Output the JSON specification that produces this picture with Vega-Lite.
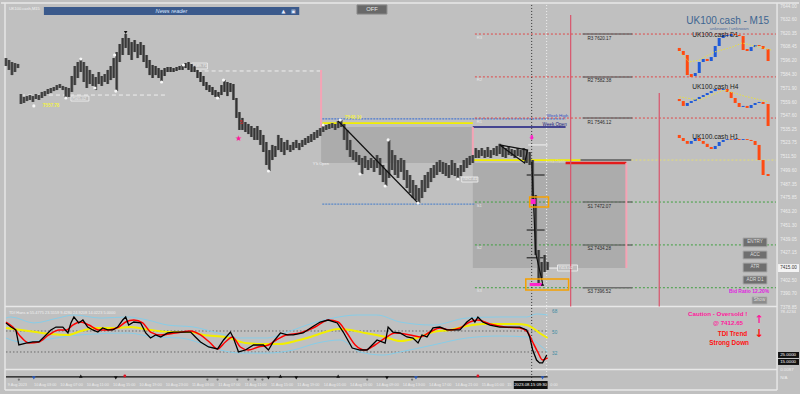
{
"$schema":"https://vega.github.io/schema/vega-lite/v6.json",
"width":800,"height":394,"padding":0,
"autosize":{"type":"fit","contains":"padding"},
"background":"#c0c0c0",
"config":{"view":{"stroke":null},"text":{"font":"Liberation Sans"}},
"datasets":{
"bars":[
{"n":0,"p":7599.0,"p2":7592.0},{"n":1,"p":7597.3,"p2":7588.5},{"n":2,"p":7595.5,"p2":7584.0},{"n":3,"p":7594.6,"p2":7586.7},{"n":4,"p":7593.8,"p2":7590.2},
{"n":5,"p":7567.3,"p2":7558.5},{"n":6,"p":7564.7,"p2":7559.4},{"n":7,"p":7565.5,"p2":7561.1},{"n":8,"p":7566.4,"p2":7562.0},{"n":9,"p":7565.5,"p2":7560.3},
{"n":10,"p":7567.3,"p2":7562.9},{"n":11,"p":7566.4,"p2":7562.0},{"n":12,"p":7569.1,"p2":7563.8},{"n":13,"p":7569.9,"p2":7565.5},{"n":14,"p":7571.7,"p2":7567.3},
{"n":15,"p":7572.6,"p2":7568.2},{"n":16,"p":7573.5,"p2":7569.9},{"n":17,"p":7575.2,"p2":7570.8},{"n":18,"p":7576.1,"p2":7572.6},{"n":19,"p":7574.4,"p2":7570.8},
{"n":20,"p":7573.5,"p2":7563.8},{"n":21,"p":7572.6,"p2":7564.7},{"n":22,"p":7583.2,"p2":7569.1},{"n":23,"p":7592.0,"p2":7575.2},{"n":24,"p":7595.5,"p2":7581.4},
{"n":25,"p":7598.2,"p2":7586.7},{"n":26,"p":7595.5,"p2":7577.9},{"n":27,"p":7592.0,"p2":7572.6},{"n":28,"p":7588.5,"p2":7576.1},{"n":29,"p":7584.9,"p2":7574.4},
{"n":30,"p":7582.3,"p2":7570.8},{"n":31,"p":7586.7,"p2":7576.1},{"n":32,"p":7583.2,"p2":7574.4},{"n":33,"p":7584.9,"p2":7577.9},{"n":34,"p":7588.5,"p2":7576.1},
{"n":35,"p":7592.0,"p2":7579.6},{"n":36,"p":7599.0,"p2":7581.4},{"n":37,"p":7604.3,"p2":7569.9},{"n":38,"p":7611.4,"p2":7595.5},{"n":39,"p":7616.7,"p2":7601.7},
{"n":40,"p":7620.2,"p2":7607.9},{"n":41,"p":7616.7,"p2":7601.7},{"n":42,"p":7613.1,"p2":7597.3},{"n":43,"p":7614.9,"p2":7604.3},{"n":44,"p":7611.4,"p2":7599.0},
{"n":45,"p":7613.1,"p2":7601.7},{"n":46,"p":7610.5,"p2":7595.5},{"n":47,"p":7601.7,"p2":7590.2},{"n":48,"p":7597.3,"p2":7584.0},{"n":49,"p":7592.9,"p2":7581.4},
{"n":50,"p":7592.0,"p2":7584.0},{"n":51,"p":7590.2,"p2":7581.4},{"n":52,"p":7588.5,"p2":7577.9},{"n":53,"p":7590.2,"p2":7583.2},{"n":54,"p":7591.1,"p2":7586.7},
{"n":55,"p":7591.1,"p2":7586.7},{"n":56,"p":7590.2,"p2":7586.7},{"n":57,"p":7591.1,"p2":7587.6},{"n":58,"p":7592.0,"p2":7588.5},{"n":59,"p":7592.9,"p2":7588.5},
{"n":60,"p":7594.6,"p2":7590.2},{"n":61,"p":7595.5,"p2":7588.5},{"n":62,"p":7593.8,"p2":7586.7},{"n":63,"p":7592.0,"p2":7586.7},{"n":64,"p":7588.5,"p2":7581.4},
{"n":65,"p":7586.7,"p2":7577.9},{"n":66,"p":7583.2,"p2":7574.4},{"n":67,"p":7577.9,"p2":7570.8},{"n":68,"p":7575.2,"p2":7569.1},{"n":69,"p":7573.5,"p2":7566.4},
{"n":70,"p":7570.8,"p2":7564.7},{"n":71,"p":7569.1,"p2":7563.8},{"n":72,"p":7575.2,"p2":7566.4},{"n":73,"p":7579.6,"p2":7569.1},{"n":74,"p":7577.9,"p2":7565.5},
{"n":75,"p":7577.0,"p2":7569.1},{"n":76,"p":7576.1,"p2":7562.0},{"n":77,"p":7563.8,"p2":7546.2},{"n":78,"p":7551.4,"p2":7535.6},{"n":79,"p":7546.2,"p2":7535.6},
{"n":80,"p":7542.6,"p2":7533.8},{"n":81,"p":7540.9,"p2":7532.0},{"n":82,"p":7539.1,"p2":7529.4},{"n":83,"p":7537.3,"p2":7526.8},{"n":84,"p":7539.1,"p2":7526.8},
{"n":85,"p":7535.6,"p2":7522.4},{"n":86,"p":7531.2,"p2":7516.2},{"n":87,"p":7525.0,"p2":7504.7},{"n":88,"p":7517.9,"p2":7499.4},{"n":89,"p":7522.4,"p2":7509.1},
{"n":90,"p":7521.5,"p2":7511.8},{"n":91,"p":7531.2,"p2":7517.9},{"n":92,"p":7528.5,"p2":7516.2},{"n":93,"p":7525.0,"p2":7513.5},{"n":94,"p":7526.8,"p2":7517.9},
{"n":95,"p":7522.4,"p2":7516.2},{"n":96,"p":7525.0,"p2":7517.9},{"n":97,"p":7526.8,"p2":7519.7},{"n":98,"p":7524.1,"p2":7517.9},{"n":99,"p":7526.8,"p2":7520.6},
{"n":100,"p":7528.5,"p2":7522.4},{"n":101,"p":7530.3,"p2":7524.1},{"n":102,"p":7532.0,"p2":7525.0},{"n":103,"p":7533.8,"p2":7526.8},{"n":104,"p":7535.6,"p2":7528.5},
{"n":105,"p":7537.3,"p2":7530.3},{"n":106,"p":7540.9,"p2":7533.8},{"n":107,"p":7540.0,"p2":7535.6},{"n":108,"p":7540.9,"p2":7536.5},{"n":109,"p":7541.7,"p2":7537.3},
{"n":110,"p":7540.9,"p2":7535.6},{"n":111,"p":7543.5,"p2":7537.3},{"n":112,"p":7544.4,"p2":7538.2},{"n":113,"p":7540.9,"p2":7526.8},{"n":114,"p":7535.6,"p2":7517.9},
{"n":115,"p":7526.8,"p2":7511.8},{"n":116,"p":7517.9,"p2":7509.1},{"n":117,"p":7516.2,"p2":7507.4},{"n":118,"p":7513.5,"p2":7504.7},{"n":119,"p":7510.9,"p2":7496.8},
{"n":120,"p":7512.7,"p2":7502.1},{"n":121,"p":7509.1,"p2":7500.3},{"n":122,"p":7510.9,"p2":7502.1},{"n":123,"p":7509.1,"p2":7498.6},{"n":124,"p":7513.5,"p2":7502.1},
{"n":125,"p":7510.9,"p2":7495.9},{"n":126,"p":7504.7,"p2":7489.7},{"n":127,"p":7500.3,"p2":7486.2},{"n":128,"p":7526.8,"p2":7493.3},{"n":129,"p":7517.9,"p2":7500.3},
{"n":130,"p":7513.5,"p2":7495.9},{"n":131,"p":7509.1,"p2":7493.3},{"n":132,"p":7510.9,"p2":7498.6},{"n":133,"p":7509.1,"p2":7491.5},{"n":134,"p":7500.3,"p2":7484.4},
{"n":135,"p":7495.9,"p2":7480.0},{"n":136,"p":7491.5,"p2":7475.6},{"n":137,"p":7487.1,"p2":7473.9},{"n":138,"p":7484.4,"p2":7471.2},{"n":139,"p":7491.5,"p2":7475.6},
{"n":140,"p":7495.9,"p2":7480.9},{"n":141,"p":7498.6,"p2":7484.4},{"n":142,"p":7502.1,"p2":7489.7},{"n":143,"p":7504.7,"p2":7493.3},{"n":144,"p":7507.4,"p2":7495.9},
{"n":145,"p":7509.1,"p2":7498.6},{"n":146,"p":7507.4,"p2":7496.8},{"n":147,"p":7506.5,"p2":7495.0},{"n":148,"p":7504.7,"p2":7493.3},{"n":149,"p":7509.1,"p2":7495.9},
{"n":150,"p":7506.5,"p2":7495.0},{"n":151,"p":7502.1,"p2":7492.4},{"n":152,"p":7504.7,"p2":7495.0},{"n":153,"p":7509.1,"p2":7498.6},{"n":154,"p":7510.9,"p2":7502.1},
{"n":155,"p":7512.7,"p2":7504.7},{"n":156,"p":7513.5,"p2":7506.5},{"n":157,"p":7519.7,"p2":7510.9},{"n":158,"p":7517.9,"p2":7510.9},{"n":159,"p":7519.7,"p2":7512.7},
{"n":160,"p":7517.9,"p2":7510.9},{"n":161,"p":7520.6,"p2":7511.8},{"n":162,"p":7517.9,"p2":7510.9},{"n":163,"p":7519.7,"p2":7513.5},{"n":164,"p":7521.5,"p2":7512.7},
{"n":165,"p":7523.4,"p2":7514.4},{"n":166,"p":7521.5,"p2":7511.8},{"n":167,"p":7519.7,"p2":7510.9},{"n":168,"p":7520.6,"p2":7513.5},{"n":169,"p":7518.8,"p2":7512.7},
{"n":170,"p":7517.9,"p2":7510.9},{"n":171,"p":7519.7,"p2":7512.7},{"n":172,"p":7517.9,"p2":7511.8},{"n":173,"p":7519.7,"p2":7509.1},{"n":174,"p":7517.9,"p2":7506.5},
{"n":175,"p":7516.2,"p2":7504.7},{"n":176,"p":7509.1,"p2":7473.9},{"n":177,"p":7478.3,"p2":7425.4},{"n":178,"p":7429.8,"p2":7400.7},{"n":179,"p":7419.2,"p2":7405.1},
{"n":180,"p":7425.4,"p2":7410.4},{"n":181,"p":7419.2,"p2":7412.2}
],
"dots":[
{"n":9.3,"p":7556.8},{"n":20,"p":7563.8},{"n":25,"p":7598.2},{"n":29.7,"p":7572.6},{"n":36.3,"p":7601.7},{"n":36.7,"p":7569.9},{"n":52,"p":7577.9},{"n":59.3,"p":7592.9},{"n":70.7,"p":7563.8},{"n":72.7,"p":7579.6},{"n":87.7,"p":7499.4},{"n":106,"p":7540.0},{"n":111.7,"p":7544.4},{"n":118.3,"p":7496.8},{"n":126.7,"p":7486.2},{"n":127.7,"p":7526.8},{"n":137.7,"p":7471.2},{"n":151,"p":7492.4}
],
"hl":[
{"n":5,"n2":53.3,"p":7566.4,"k":"wdash"},{"n":61.7,"n2":105,"p":7587.6,"k":"wdash"},
{"n":105.7,"n2":187,"p":7545.3,"k":"wkhigh"},
{"n":105.7,"n2":156,"p":7541.7,"k":"yel"},{"n":156,"n2":192,"p":7509.1,"k":"yel"},
{"n":156,"n2":187,"p":7538.2,"k":"navy"},
{"n":105.7,"n2":156.7,"p":7470.3,"k":"blue"},
{"n":187,"n2":207.3,"p":7506.5,"k":"red"},
{"n":192,"n2":209,"p":7509.1,"k":"dark"},
{"n":209,"n2":257.3,"p":7509.1,"k":"fyel"},
{"n":174,"n2":180,"p":7495.9,"k":"blk"},{"n":174,"n2":180,"p":7447.4,"k":"blk"},{"n":174,"n2":180,"p":7422.9,"k":"blk"},
{"n":174.5,"n2":181,"p":7522.4,"k":"wht"},{"n":180,"n2":184.3,"p":7413.9,"k":"wht"},
{"n":50.7,"n2":60,"p":7637.8,"k":"ul"},
{"n":-0.33,"n2":257.67,"p":7380.0,"k":"sep"},{"n":-1.67,"n2":265,"p":7647.5,"k":"sep"}
],
"pv":[
{"s":"R3","k":"R","p":7620.17,"t":"R3 7620.17","n":156.7,"n2":257.3,"a":192.7,"a2":209.3,"ln":194.3,"sn":157.3},
{"s":"R2","k":"R","p":7582.38,"t":"R2 7582.38","n":156.7,"n2":257.3,"a":192.7,"a2":209.3,"ln":194.3,"sn":157.3},
{"s":"R1","k":"R","p":7546.12,"t":"R1 7546.12","n":156.7,"n2":257.3,"a":192.7,"a2":209.3,"ln":194.3,"sn":157.3},
{"s":"S1","k":"S","p":7472.07,"t":"S1 7472.07","n":156.7,"n2":257.3,"a":192.7,"a2":209.3,"ln":194.3,"sn":157.3},
{"s":"S2","k":"S","p":7434.28,"t":"S2 7434.28","n":156.7,"n2":257.3,"a":192.7,"a2":209.3,"ln":194.3,"sn":157.3},
{"s":"S3","k":"S","p":7396.52,"t":"S3 7396.52","n":156.7,"n2":257.3,"a":192.7,"a2":209.3,"ln":194.3,"sn":157.3}
],
"vl":[
{"n":105.3,"p":7588.5,"p2":7538.2,"k":"pink"},{"n":156,"p":7538.2,"p2":7506.5,"k":"pink"},{"n":207.3,"p":7506.5,"p2":7413.9,"k":"pink"},
{"n":188.7,"p":7637.0,"p2":7380.0,"k":"redv"},{"n":218.3,"p":7568.2,"p2":7380.0,"k":"redv"},
{"n":175.67,"p":7645.8,"p2":7306.4,"k":"cross"},
{"n":180.67,"p":7645.8,"p2":7315.2,"k":"wdot"},
{"n":-0.33,"p":7647.5,"p2":7306.4,"k":"frame"},{"n":257.67,"p":7647.5,"p2":7306.4,"k":"frame"}
],
"bx":[
{"n":105.3,"n2":156,"p":7538.2,"p2":7506.5,"k":"shade"},{"n":156,"n2":207.3,"p":7506.5,"p2":7413.9,"k":"shade"},
{"n":21.7,"n2":27.7,"p":7565.5,"p2":7561.1,"k":"lbl"},{"n":62,"n2":67.3,"p":7594.6,"p2":7589.3,"k":"lbl"},{"n":152.3,"n2":157.7,"p":7494.2,"p2":7489.7,"k":"lbl"},{"n":184.3,"n2":191,"p":7416.6,"p2":7411.3,"k":"lbl"},
{"n":175,"n2":181.3,"p":7476.5,"p2":7467.7,"k":"orange"},{"n":173.7,"n2":188,"p":7404.2,"p2":7394.5,"k":"orange"},
{"n":175.3,"n2":177,"p":7474.8,"p2":7470.3,"k":"mag"},{"n":175,"n2":179.3,"p":7400.7,"p2":7398.1,"k":"mag"},
{"n":12.67,"n2":98,"p":7644.0,"p2":7636.9,"k":"news"},
{"n":246.3,"n2":254.3,"p":7440.4,"p2":7432.6,"k":"btn"},{"n":246.3,"n2":254.3,"p":7428.9,"p2":7421.9,"k":"btn"},{"n":246.3,"n2":254.3,"p":7418.3,"p2":7410.4,"k":"btn"},{"n":246.3,"n2":254.3,"p":7406.9,"p2":7399.8,"k":"btn"},
{"n":249.3,"n2":254.3,"p":7388.4,"p2":7382.2,"k":"show"},
{"n":117.3,"n2":127.3,"p":7645.8,"p2":7637.8,"k":"off"},
{"n":258,"n2":265,"p":7417.4,"p2":7410.4,"k":"cur"}
],
"tl":[
{"g":"a","o":1,"n":111,"p":7543.5},{"g":"a","o":2,"n":137.7,"p":7471.2},
{"g":"b","o":1,"n":165,"p":7522.4},{"g":"b","o":2,"n":174.3,"p":7517.9},{"g":"b","o":3,"n":173.3,"p":7506.5},{"g":"b","o":4,"n":165,"p":7522.4},
{"g":"c","o":1,"n":175.7,"p":7507.4},{"g":"c","o":2,"n":177,"p":7427.3},{"g":"c","o":3,"n":179.3,"p":7400.7}
],
"mc":[
{"g":"D1","n":225,"p":7607.9,"p2":7605.2},{"g":"D1","n":226.33,"p":7605.2,"p2":7601.7},{"g":"D1","n":227.67,"p":7601.7,"p2":7584.0},{"g":"D1","n":229,"p":7584.9,"p2":7582.3},{"g":"D1","n":230.33,"p":7583.2,"p2":7585.8},{"g":"D1","n":231.67,"p":7585.8,"p2":7595.5},{"g":"D1","n":233,"p":7595.5,"p2":7598.2},{"g":"D1","n":234.33,"p":7598.2,"p2":7596.4},{"g":"D1","n":235.67,"p":7596.4,"p2":7599.9},{"g":"D1","n":237,"p":7599.9,"p2":7609.6},{"g":"D1","n":238.33,"p":7609.6,"p2":7616.7},{"g":"D1","n":239.67,"p":7616.7,"p2":7619.3},{"g":"D1","n":241,"p":7618.4,"p2":7619.3},{"g":"D1","n":242.33,"p":7618.4,"p2":7620.2},{"g":"D1","n":243.67,"p":7620.2,"p2":7619.3},{"g":"D1","n":245,"p":7619.3,"p2":7618.4},{"g":"D1","n":246.33,"p":7618.4,"p2":7606.1},{"g":"D1","n":247.67,"p":7607.0,"p2":7605.2},{"g":"D1","n":249,"p":7605.2,"p2":7608.7},{"g":"D1","n":250.33,"p":7608.7,"p2":7610.5},{"g":"D1","n":251.67,"p":7610.5,"p2":7609.6},{"g":"D1","n":253,"p":7609.6,"p2":7607.0},{"g":"D1","n":254.67,"p":7607.0,"p2":7596.4},
{"g":"H4","n":225,"p":7562.9,"p2":7561.1},{"g":"H4","n":226.33,"p":7561.1,"p2":7556.8},{"g":"H4","n":227.67,"p":7556.8,"p2":7559.4},{"g":"H4","n":229,"p":7559.4,"p2":7561.1},{"g":"H4","n":230.33,"p":7561.1,"p2":7562.9},{"g":"H4","n":231.67,"p":7562.9,"p2":7564.7},{"g":"H4","n":233,"p":7564.7,"p2":7566.4},{"g":"H4","n":234.33,"p":7566.4,"p2":7568.2},{"g":"H4","n":235.67,"p":7568.2,"p2":7569.9},{"g":"H4","n":237,"p":7569.9,"p2":7571.7},{"g":"H4","n":238.33,"p":7571.7,"p2":7570.8},{"g":"H4","n":239.67,"p":7570.8,"p2":7571.7},{"g":"H4","n":241,"p":7571.7,"p2":7569.1},{"g":"H4","n":242.33,"p":7569.1,"p2":7563.8},{"g":"H4","n":243.67,"p":7563.8,"p2":7559.4},{"g":"H4","n":245,"p":7559.4,"p2":7555.9},{"g":"H4","n":246.33,"p":7555.9,"p2":7556.8},{"g":"H4","n":247.67,"p":7556.8,"p2":7555.0},{"g":"H4","n":249,"p":7555.0,"p2":7557.6},{"g":"H4","n":250.33,"p":7557.6,"p2":7559.4},{"g":"H4","n":251.67,"p":7559.4,"p2":7560.3},{"g":"H4","n":253,"p":7560.3,"p2":7558.5},{"g":"H4","n":254.67,"p":7558.5,"p2":7539.1},
{"g":"H1","n":225,"p":7531.2,"p2":7528.5},{"g":"H1","n":226.33,"p":7528.5,"p2":7525.9},{"g":"H1","n":227.67,"p":7525.9,"p2":7523.4},{"g":"H1","n":229,"p":7523.4,"p2":7525.9},{"g":"H1","n":230.33,"p":7525.9,"p2":7528.5},{"g":"H1","n":231.67,"p":7528.5,"p2":7525.9},{"g":"H1","n":233,"p":7525.9,"p2":7523.4},{"g":"H1","n":234.33,"p":7523.4,"p2":7520.6},{"g":"H1","n":235.67,"p":7520.6,"p2":7518.8},{"g":"H1","n":237,"p":7518.8,"p2":7521.5},{"g":"H1","n":238.33,"p":7521.5,"p2":7525.0},{"g":"H1","n":239.67,"p":7525.0,"p2":7526.8},{"g":"H1","n":241,"p":7526.8,"p2":7527.6},{"g":"H1","n":242.33,"p":7527.6,"p2":7526.8},{"g":"H1","n":243.67,"p":7526.8,"p2":7527.6},{"g":"H1","n":245,"p":7527.6,"p2":7526.8},{"g":"H1","n":246.33,"p":7526.8,"p2":7527.6},{"g":"H1","n":247.67,"p":7527.6,"p2":7526.8},{"g":"H1","n":249,"p":7526.8,"p2":7525.9},{"g":"H1","n":250.33,"p":7525.9,"p2":7522.4},{"g":"H1","n":251.67,"p":7522.4,"p2":7509.1},{"g":"H1","n":253,"p":7509.1,"p2":7495.9},{"g":"H1","n":254.67,"p":7496.8,"p2":7495.0}
],
"mm":[
{"g":"D1","n":225,"p":7604.3},{"g":"D1","n":228.3,"p":7595.5},{"g":"D1","n":231.7,"p":7597.3},{"g":"D1","n":236.7,"p":7604.3},{"g":"D1","n":242.7,"p":7608.7},{"g":"D1","n":246,"p":7612.3},{"g":"D1","n":255.7,"p":7606.1},
{"g":"H4","n":225,"p":7564.7},{"g":"H4","n":231.7,"p":7562.0},{"g":"H4","n":240,"p":7570.8},{"g":"H4","n":246.7,"p":7565.5},{"g":"H4","n":255,"p":7560.3}
],
"sym":[
{"n":175.7,"p":7528.9,"k":"arrow"},{"n":40,"p":7621.5,"k":"tdn"},{"n":179.3,"p":7399.5,"k":"tup"}
],
"tx":[
{"n":258.7,"p":7644.00,"t":"7644.00","k":"ax"},{"n":258.7,"p":7632.60,"t":"7632.60","k":"ax"},{"n":258.7,"p":7620.35,"t":"7620.35","k":"ax"},{"n":258.7,"p":7608.45,"t":"7608.45","k":"ax"},{"n":258.7,"p":7596.20,"t":"7596.20","k":"ax"},{"n":258.7,"p":7584.30,"t":"7584.30","k":"ax"},{"n":258.7,"p":7571.90,"t":"7571.90","k":"ax"},{"n":258.7,"p":7559.60,"t":"7559.60","k":"ax"},{"n":258.7,"p":7547.60,"t":"7547.60","k":"ax"},{"n":258.7,"p":7535.25,"t":"7535.25","k":"ax"},{"n":258.7,"p":7523.75,"t":"7523.75","k":"ax"},{"n":258.7,"p":7511.50,"t":"7511.50","k":"ax"},{"n":258.7,"p":7499.60,"t":"7499.60","k":"ax"},{"n":258.7,"p":7487.35,"t":"7487.35","k":"ax"},{"n":258.7,"p":7475.85,"t":"7475.85","k":"ax"},{"n":258.7,"p":7463.20,"t":"7463.20","k":"ax"},{"n":258.7,"p":7451.30,"t":"7451.30","k":"ax"},{"n":258.7,"p":7439.05,"t":"7439.05","k":"ax"},{"n":258.7,"p":7427.15,"t":"7427.15","k":"ax"},{"n":258.7,"p":7402.50,"t":"7402.50","k":"ax"},{"n":258.7,"p":7390.70,"t":"7390.70","k":"ax"},{"n":258.7,"p":7378.85,"t":"7378.85","k":"ax"},
{"n":258.7,"p":7414.0,"t":"7415.00","k":"cur"},
{"n":255,"p":7631.7,"t":"UK100.cash - M15","k":"title"},
{"n":241.7,"p":7624.8,"t":"unknown / unknown","k":"sub"},
{"n":229.3,"p":7619.3,"t":"UK100.cash D1","k":"tf"},{"n":229.3,"p":7573.5,"t":"UK100.cash H4","k":"tf"},{"n":229.3,"p":7529.4,"t":"UK100.cash H1","k":"tf"},
{"n":250.3,"p":7436.5,"t":"ENTRY","k":"btn"},{"n":250.3,"p":7425.4,"t":"ACC","k":"btn"},{"n":250.3,"p":7414.4,"t":"ATR","k":"btn"},{"n":250.3,"p":7403.4,"t":"ADR D1","k":"btn"},{"n":251.8,"p":7385.3,"t":"Show","k":"btn"},
{"n":248.3,"p":7393.6,"t":"Bid Ratio 12.20%","k":"bid"},
{"n":55.3,"p":7640.5,"t":"News reader","k":"news"},
{"n":92.7,"p":7640.5,"t":"▲","k":"icon"},{"n":96,"p":7640.5,"t":"▣","k":"icon"},
{"n":122.3,"p":7641.8,"t":"OFF","k":"off"},
{"n":1,"p":7642.2,"t":"UK100.cash,M15","k":"sm"},{"n":22,"p":7563.3,"t":"7565.02","k":"sm"},{"n":62.3,"p":7592.0,"t":"7589.71","k":"sm"},{"n":102.5,"p":7505.8,"t":"Y'k Open","k":"sm"},{"n":152.6,"p":7492.0,"t":"7492.41","k":"sm"},{"n":184.6,"p":7414.0,"t":"7413.02","k":"sm"},
{"n":12.3,"p":7556.7,"t":"7557.78","k":"yl"},{"n":113.3,"p":7546.0,"t":"7548.19","k":"yl"},
{"n":180.7,"p":7548.0,"t":"Week High","k":"wh"},
{"n":179.3,"p":7540.4,"t":"Week Open","k":"wo"},
{"n":180.7,"p":7508.2,"t":"Day Open","k":"do"},
{"n":77.7,"p":7527.6,"t":"★","k":"star"},
{"n":78.7,"p":7542.6,"t":"5","k":"r5"}
],
"tk":[
{"n":0,"v":56.9},{"n":1.7,"v":53.4},{"n":3.3,"v":50.9},{"n":4.3,"v":38.0},{"n":6.7,"v":39.7},{"n":9,"v":40.6},{"n":11,"v":40.6},{"n":12.7,"v":44.9},{"n":15,"v":50.9},{"n":16.7,"v":53.4},{"n":19,"v":53.4},{"n":20.7,"v":48.3},{"n":21.7,"v":56.9},{"n":22.7,"v":62.0},{"n":24.3,"v":56.9},{"n":25.7,"v":59.4},{"n":27.3,"v":53.4},{"n":29,"v":50.9},{"n":30.7,"v":49.1},{"n":32.3,"v":52.6},{"n":34,"v":50.9},{"n":35.7,"v":50.9},{"n":37.3,"v":53.4},{"n":39,"v":59.4},{"n":40,"v":62.0},{"n":41,"v":55.1},{"n":42.7,"v":57.7},{"n":45,"v":56.9},{"n":46.7,"v":48.3},{"n":48.3,"v":44.0},{"n":50,"v":46.6},{"n":51.7,"v":44.9},{"n":54,"v":48.3},{"n":56,"v":49.1},{"n":59,"v":49.1},{"n":61.7,"v":49.1},{"n":63.3,"v":44.9},{"n":65,"v":40.6},{"n":67.7,"v":36.3},{"n":70.7,"v":34.6},{"n":72.7,"v":42.3},{"n":75,"v":49.1},{"n":76,"v":44.0},{"n":77.7,"v":32.0},{"n":80,"v":33.7},{"n":82.7,"v":38.0},{"n":86,"v":38.0},{"n":87.7,"v":33.7},{"n":89.3,"v":40.6},{"n":91.7,"v":48.3},{"n":94,"v":46.6},{"n":96,"v":46.6},{"n":99.3,"v":48.3},{"n":102.3,"v":53.4},{"n":105,"v":57.7},{"n":107.7,"v":59.4},{"n":110.7,"v":56.9},{"n":112.7,"v":49.1},{"n":115.7,"v":35.4},{"n":118.3,"v":33.7},{"n":120.7,"v":33.7},{"n":124,"v":42.3},{"n":126.7,"v":39.7},{"n":127.7,"v":53.4},{"n":129.3,"v":49.1},{"n":131.7,"v":48.3},{"n":134,"v":44.9},{"n":136,"v":44.0},{"n":137.7,"v":39.7},{"n":139,"v":46.6},{"n":140.7,"v":44.9},{"n":142.7,"v":52.6},{"n":145,"v":53.4},{"n":147.3,"v":50.9},{"n":149.3,"v":50.9},{"n":151.7,"v":50.9},{"n":154,"v":57.7},{"n":155.7,"v":61.1},{"n":156.7,"v":57.7},{"n":157.7,"v":62.0},{"n":159.3,"v":57.7},{"n":161.7,"v":55.1},{"n":165,"v":53.4},{"n":168.3,"v":53.4},{"n":171.7,"v":53.4},{"n":174,"v":50.9},{"n":175,"v":44.9},{"n":176,"v":33.7},{"n":177.3,"v":25.1},{"n":178.3,"v":22.6},{"n":179.3,"v":22.6},{"n":180.7,"v":29.4}
],
"tr":[
{"n":0,"v":57.7},{"n":2.3,"v":53.4},{"n":5,"v":44.9},{"n":7.7,"v":39.7},{"n":11,"v":40.6},{"n":14.3,"v":46.6},{"n":17.7,"v":50.9},{"n":20.3,"v":50.9},{"n":22.3,"v":55.1},{"n":25,"v":57.7},{"n":27.7,"v":55.1},{"n":31,"v":50.9},{"n":34.3,"v":50.9},{"n":37.7,"v":53.4},{"n":40,"v":57.7},{"n":42.7,"v":59.4},{"n":45.7,"v":56.9},{"n":48.3,"v":49.1},{"n":51.7,"v":46.6},{"n":56.7,"v":48.3},{"n":61.7,"v":50.0},{"n":65,"v":46.6},{"n":68.3,"v":39.7},{"n":70.7,"v":34.6},{"n":73.3,"v":40.6},{"n":75.7,"v":44.9},{"n":78.3,"v":36.3},{"n":81,"v":33.7},{"n":84.3,"v":36.3},{"n":87.7,"v":38.0},{"n":90.3,"v":42.3},{"n":93.7,"v":46.6},{"n":98.3,"v":48.3},{"n":103.3,"v":53.4},{"n":107.7,"v":59.4},{"n":111,"v":57.7},{"n":113.7,"v":49.1},{"n":116.7,"v":38.0},{"n":120,"v":33.7},{"n":123.3,"v":38.0},{"n":126.7,"v":44.0},{"n":130,"v":48.3},{"n":135,"v":46.6},{"n":138.3,"v":44.9},{"n":141.7,"v":49.1},{"n":145,"v":52.6},{"n":148.3,"v":50.9},{"n":151.7,"v":52.6},{"n":155,"v":57.7},{"n":157.7,"v":59.4},{"n":161.7,"v":56.0},{"n":166.7,"v":53.4},{"n":171.7,"v":52.6},{"n":174.3,"v":49.1},{"n":176,"v":40.6},{"n":177.7,"v":32.0},{"n":179.3,"v":25.1},{"n":181,"v":26.9}
],
"ty":[
{"n":0,"v":52.6},{"n":5,"v":50.9},{"n":10,"v":49.1},{"n":15,"v":47.4},{"n":20.7,"v":46.6},{"n":25,"v":50.0},{"n":30,"v":52.6},{"n":36.7,"v":52.6},{"n":41.7,"v":53.4},{"n":48.3,"v":50.9},{"n":55,"v":49.1},{"n":61.7,"v":49.1},{"n":66,"v":46.6},{"n":73.3,"v":44.9},{"n":80,"v":39.7},{"n":85,"v":38.9},{"n":91.7,"v":38.9},{"n":96.7,"v":41.4},{"n":101.7,"v":44.9},{"n":106.7,"v":49.1},{"n":111,"v":51.7},{"n":115,"v":50.9},{"n":120,"v":48.3},{"n":126.7,"v":44.9},{"n":131.7,"v":41.4},{"n":137.3,"v":44.0},{"n":142.7,"v":49.1},{"n":148.3,"v":50.9},{"n":154,"v":54.3},{"n":159.3,"v":56.0},{"n":165,"v":56.0},{"n":170.7,"v":56.0},{"n":174,"v":55.1},{"n":176,"v":52.6},{"n":178.3,"v":48.3},{"n":181,"v":44.0}
],
"tu":[
{"n":0,"v":61.1},{"n":1.7,"v":62.0},{"n":9.3,"v":56.9},{"n":17.3,"v":61.1},{"n":22.7,"v":63.7},{"n":31.7,"v":61.1},{"n":40.7,"v":62.0},{"n":47.3,"v":59.4},{"n":54,"v":55.1},{"n":62.7,"v":53.4},{"n":70.7,"v":48.3},{"n":78.3,"v":44.0},{"n":87.3,"v":44.0},{"n":94,"v":49.1},{"n":102.7,"v":56.9},{"n":109.3,"v":61.1},{"n":117.3,"v":63.7},{"n":124,"v":63.7},{"n":131.7,"v":57.7},{"n":142.7,"v":55.1},{"n":154,"v":61.1},{"n":165,"v":62.0},{"n":174,"v":62.0},{"n":177.3,"v":64.6},{"n":181,"v":63.7}
],
"tw":[
{"n":0,"v":44.0},{"n":5,"v":40.6},{"n":12.7,"v":42.3},{"n":20.7,"v":45.7},{"n":29.3,"v":47.4},{"n":40.7,"v":48.3},{"n":49.3,"v":44.9},{"n":58.3,"v":44.0},{"n":65,"v":39.7},{"n":71.7,"v":33.7},{"n":78.3,"v":31.1},{"n":87.3,"v":31.1},{"n":96,"v":33.7},{"n":104,"v":39.7},{"n":111.7,"v":42.3},{"n":118.3,"v":32.0},{"n":126,"v":29.4},{"n":131.7,"v":32.0},{"n":142.7,"v":38.0},{"n":154,"v":44.0},{"n":165,"v":45.7},{"n":174,"v":44.9},{"n":178.3,"v":38.0},{"n":181,"v":32.0}
],
"tlev":[
{"n":0,"n2":181,"v":50,"k":"dot"},{"n":0,"n2":181,"v":32,"k":"dot"},
{"n":-0.33,"n2":257.67,"v":17.0,"k":"sep"},{"n":-0.33,"n2":257.67,"v":-0.6,"k":"sep"},
{"n":0,"n2":181,"v":10.6,"k":"strip"}
],
"mk":[
{"n":9.3,"v":9.9,"k":"bd"},{"n":137,"v":9.9,"k":"bd"},{"n":179.3,"v":9.9,"k":"bd"},
{"n":36.7,"v":9.9,"k":"kd"},{"n":87.7,"v":9.9,"k":"kd"},{"n":97,"v":9.9,"k":"kd"},{"n":127.3,"v":9.9,"k":"kd"},
{"n":25,"v":11.4,"k":"ku"},{"n":91.7,"v":11.4,"k":"ku"},{"n":111,"v":11.4,"k":"ku"},
{"n":4.3,"v":8.4,"k":"gd"},{"n":67.3,"v":8.4,"k":"gd"},{"n":70.7,"v":8.4,"k":"gd"},{"n":77.3,"v":8.4,"k":"gd"},{"n":81,"v":8.4,"k":"gd"},{"n":83.3,"v":8.4,"k":"gd"},{"n":85.7,"v":8.4,"k":"gd"},{"n":120.7,"v":8.4,"k":"gd"},{"n":135.7,"v":8.4,"k":"gd"},
{"n":39.7,"v":11.4,"k":"rd"},{"n":157.7,"v":11.4,"k":"rd"}
],
"trc":[
{"n":258,"n2":265,"v":32.0,"v2":26.9},{"n":258,"n2":265,"v":26.0,"v2":20.9},{"n":169.7,"n2":181,"v":7.15,"v2":0.29}
],
"tt":[
{"n":1,"v":65.8,"t":"TDI Hans = 55.4775 23.5559 9.4280 24.9208 14.0223 5.0000","k":"hdr"},
{"n":182.5,"v":66.3,"t":"68","k":"lvl"},{"n":182.5,"v":48.3,"t":"50","k":"lvl"},{"n":182.5,"v":30.3,"t":"32","k":"lvl"},
{"n":258.7,"v":66.3,"t":"78.4234","k":"rax"},{"n":258.7,"v":16.6,"t":"0.0087","k":"rax"},{"n":258.7,"v":9.7,"t":"N/A","k":"rax"},
{"n":258.7,"v":29.4,"t":"25.0000","k":"rbox"},{"n":258.7,"v":23.4,"t":"15.0000","k":"rbox"},
{"n":247.7,"v":64.6,"t":"Caution - Oversold !","k":"mag"},{"n":246.3,"v":56.9,"t":"@ 7412.65","k":"mag"},
{"n":247.7,"v":47.4,"t":"TDI Trend","k":"red"},{"n":248.3,"v":39.7,"t":"Strong Down","k":"red"},
{"n":251.7,"v":59.4,"t":"↑","k":"aru"},{"n":251.7,"v":47.4,"t":"↓","k":"ard"},
{"n":0.57,"v":3.7,"t":"9 Aug 2023","k":"time"},{"n":9.37,"v":3.7,"t":"10 Aug 03:00","k":"time"},{"n":18.17,"v":3.7,"t":"10 Aug 07:00","k":"time"},{"n":26.97,"v":3.7,"t":"10 Aug 11:00","k":"time"},{"n":35.77,"v":3.7,"t":"10 Aug 15:00","k":"time"},{"n":44.57,"v":3.7,"t":"10 Aug 19:00","k":"time"},{"n":53.37,"v":3.7,"t":"10 Aug 23:00","k":"time"},{"n":62.17,"v":3.7,"t":"11 Aug 03:00","k":"time"},{"n":70.97,"v":3.7,"t":"11 Aug 07:00","k":"time"},{"n":79.77,"v":3.7,"t":"11 Aug 11:00","k":"time"},{"n":88.57,"v":3.7,"t":"11 Aug 15:00","k":"time"},{"n":97.37,"v":3.7,"t":"11 Aug 19:00","k":"time"},{"n":106.17,"v":3.7,"t":"14 Aug 01:00","k":"time"},{"n":114.97,"v":3.7,"t":"14 Aug 05:00","k":"time"},{"n":123.77,"v":3.7,"t":"14 Aug 09:00","k":"time"},{"n":132.57,"v":3.7,"t":"14 Aug 13:00","k":"time"},{"n":141.37,"v":3.7,"t":"14 Aug 17:00","k":"time"},{"n":150.17,"v":3.7,"t":"14 Aug 21:00","k":"time"},{"n":158.97,"v":3.7,"t":"15 Aug 01:00","k":"time"},{"n":167.5,"v":3.7,"t":"15","k":"time"},{"n":181.9,"v":3.7,"t":"0:00","k":"time"},
{"n":175.3,"v":3.7,"t":"2023.08.15 09:30","k":"tbox"}
]
},
"layer":[
{
"encoding":{
"x":{"field":"n","type":"quantitative","scale":{"domain":[-1.6667,265],"nice":false,"zero":false},"axis":null},
"y":{"field":"p","type":"quantitative","scale":{"domain":[7302.86,7650.17],"nice":false,"zero":false},"axis":null}
},
"layer":[
{"data":{"name":"bx"},"transform":[{"filter":"datum.k==='shade'"}],"mark":{"type":"rect","fill":"#acacac"},"encoding":{"x2":{"field":"n2"},"y2":{"field":"p2"}}},
{"data":{"name":"bx"},"transform":[{"filter":"datum.k==='lbl'"}],"mark":{"type":"rect","fill":"#bcbcbc","stroke":"#f2f2f2","strokeWidth":0.8},"encoding":{"x2":{"field":"n2"},"y2":{"field":"p2"}}},
{"data":{"name":"hl"},"transform":[{"filter":"datum.k==='wdash'"}],"mark":{"type":"rule","color":"#eeeeee","strokeWidth":1,"strokeDash":[4,3]},"encoding":{"x2":{"field":"n2"}}},
{"data":{"name":"hl"},"transform":[{"filter":"datum.k==='wkhigh'"}],"mark":{"type":"rule","color":"#4a78d0","strokeWidth":1.2,"strokeDash":[2,1]},"encoding":{"x2":{"field":"n2"}}},
{"data":{"name":"hl"},"transform":[{"filter":"datum.k==='yel'"}],"mark":{"type":"rule","color":"#f2ee00","strokeWidth":1.8},"encoding":{"x2":{"field":"n2"}}},
{"data":{"name":"hl"},"transform":[{"filter":"datum.k==='navy'"}],"mark":{"type":"rule","color":"#1c1c80","strokeWidth":1.5},"encoding":{"x2":{"field":"n2"}}},
{"data":{"name":"hl"},"transform":[{"filter":"datum.k==='blue'"}],"mark":{"type":"rule","color":"#5a88c8","strokeWidth":1.2,"strokeDash":[2,1]},"encoding":{"x2":{"field":"n2"}}},
{"data":{"name":"hl"},"transform":[{"filter":"datum.k==='red'"}],"mark":{"type":"rule","color":"#e31b1b","strokeWidth":2.5},"encoding":{"x2":{"field":"n2"}}},
{"data":{"name":"hl"},"transform":[{"filter":"datum.k==='dark'"}],"mark":{"type":"rule","color":"#5a5a5a","strokeWidth":1.5},"encoding":{"x2":{"field":"n2"}}},
{"data":{"name":"hl"},"transform":[{"filter":"datum.k==='fyel'"}],"mark":{"type":"rule","color":"#e6de70","strokeWidth":1,"strokeDash":[2,2]},"encoding":{"x2":{"field":"n2"}}},
{"data":{"name":"hl"},"transform":[{"filter":"datum.k==='blk'"}],"mark":{"type":"rule","color":"#111111","strokeWidth":1},"encoding":{"x2":{"field":"n2"}}},
{"data":{"name":"hl"},"transform":[{"filter":"datum.k==='wht'"}],"mark":{"type":"rule","color":"#f2f2f2","strokeWidth":1},"encoding":{"x2":{"field":"n2"}}},
{"data":{"name":"hl"},"transform":[{"filter":"datum.k==='ul'"}],"mark":{"type":"rule","color":"#d0e0ff","strokeWidth":0.6},"encoding":{"x2":{"field":"n2"}}},
{"data":{"name":"hl"},"transform":[{"filter":"datum.k==='sep'"}],"mark":{"type":"rule","color":"#e8e8e8","strokeWidth":1.5},"encoding":{"x2":{"field":"n2"}}},
{"data":{"name":"pv"},"transform":[{"filter":"datum.k==='R'"}],"mark":{"type":"rule","color":"#e04848","strokeWidth":1,"strokeDash":[2,2]},"encoding":{"x2":{"field":"n2"}}},
{"data":{"name":"pv"},"transform":[{"filter":"datum.k==='S'"}],"mark":{"type":"rule","color":"#3f9f3f","strokeWidth":1,"strokeDash":[2,2]},"encoding":{"x2":{"field":"n2"}}},
{"data":{"name":"pv"},"mark":{"type":"rule","color":"#6e6e6e","strokeWidth":1.5},"encoding":{"x":{"field":"a","type":"quantitative","axis":null},"x2":{"field":"a2"}}},
{"data":{"name":"pv"},"mark":{"type":"text","align":"left","baseline":"top","dy":1.5,"fontSize":4.6,"color":"#2a2a2a"},"encoding":{"x":{"field":"ln","type":"quantitative","axis":null},"text":{"field":"t"}}},
{"data":{"name":"pv"},"mark":{"type":"text","align":"left","baseline":"top","dy":1.5,"fontSize":4.2,"color":"#e6e6e6"},"encoding":{"x":{"field":"sn","type":"quantitative","axis":null},"text":{"field":"s"}}},
{"data":{"name":"vl"},"transform":[{"filter":"datum.k==='pink'"}],"mark":{"type":"rule","color":"#f5a3b5","strokeWidth":2},"encoding":{"y2":{"field":"p2"}}},
{"data":{"name":"vl"},"transform":[{"filter":"datum.k==='redv'"}],"mark":{"type":"rule","color":"#d9536b","strokeWidth":1.2},"encoding":{"y2":{"field":"p2"}}},
{"data":{"name":"vl"},"transform":[{"filter":"datum.k==='cross'"}],"mark":{"type":"rule","color":"#333333","strokeWidth":1,"strokeDash":[1,2]},"encoding":{"y2":{"field":"p2"}}},
{"data":{"name":"vl"},"transform":[{"filter":"datum.k==='wdot'"}],"mark":{"type":"rule","color":"#f0f0f0","strokeWidth":1,"strokeDash":[1,2]},"encoding":{"y2":{"field":"p2"}}},
{"data":{"name":"vl"},"transform":[{"filter":"datum.k==='frame'"}],"mark":{"type":"rule","color":"#e6e6e6","strokeWidth":1.5},"encoding":{"y2":{"field":"p2"}}},
{"data":{"name":"bars"},"mark":{"type":"rule","color":"#5a5a5a","strokeWidth":2.9},"encoding":{"y2":{"field":"p2"}}},
{"data":{"name":"bars"},"mark":{"type":"rule","color":"#1e1e1e","strokeWidth":0.7},"encoding":{"y2":{"field":"p2"}}},
{"data":{"name":"tl"},"mark":{"type":"line","color":"#111111","strokeWidth":1.2},"encoding":{"detail":{"field":"g"},"order":{"field":"o","type":"quantitative"}}},
{"data":{"name":"dots"},"mark":{"type":"point","filled":true,"color":"#f6f6f6","size":10,"opacity":1}},
{"data":{"name":"bx"},"transform":[{"filter":"datum.k==='mag'"}],"mark":{"type":"rect","fill":"#ff22cc"},"encoding":{"x2":{"field":"n2"},"y2":{"field":"p2"}}},
{"data":{"name":"bx"},"transform":[{"filter":"datum.k==='orange'"}],"mark":{"type":"rect","filled":false,"stroke":"#f5a000","strokeWidth":1.5},"encoding":{"x2":{"field":"n2"},"y2":{"field":"p2"}}},
{"data":{"name":"mc"},"transform":[{"filter":"datum.p2>datum.p"}],"mark":{"type":"rule","color":"#1f5ad8","strokeWidth":3},"encoding":{"y2":{"field":"p2"}}},
{"data":{"name":"mc"},"transform":[{"filter":"datum.p2<datum.p"}],"mark":{"type":"rule","color":"#ff4a12","strokeWidth":3},"encoding":{"y2":{"field":"p2"}}},
{"data":{"name":"mm"},"mark":{"type":"line","color":"#e8e040","strokeWidth":1,"strokeDash":[1.5,1.5]},"encoding":{"detail":{"field":"g"}}},
{"data":{"name":"bx"},"transform":[{"filter":"datum.k==='news'"}],"mark":{"type":"rect","fill":"#3b5a8c"},"encoding":{"x2":{"field":"n2"},"y2":{"field":"p2"}}},
{"data":{"name":"bx"},"transform":[{"filter":"datum.k==='btn'"}],"mark":{"type":"rect","fill":"#6f6f6f","stroke":"#a9a9a9","strokeWidth":1},"encoding":{"x2":{"field":"n2"},"y2":{"field":"p2"}}},
{"data":{"name":"bx"},"transform":[{"filter":"datum.k==='show'"}],"mark":{"type":"rect","fill":"#8c8c8c","stroke":"#b0b0b0","strokeWidth":0.8},"encoding":{"x2":{"field":"n2"},"y2":{"field":"p2"}}},
{"data":{"name":"bx"},"transform":[{"filter":"datum.k==='off'"}],"mark":{"type":"rect","fill":"#696969","stroke":"#8a8a8a","strokeWidth":1},"encoding":{"x2":{"field":"n2"},"y2":{"field":"p2"}}},
{"data":{"name":"bx"},"transform":[{"filter":"datum.k==='cur'"}],"mark":{"type":"rect","fill":"#f4f4f4"},"encoding":{"x2":{"field":"n2"},"y2":{"field":"p2"}}},
{"data":{"name":"sym"},"transform":[{"filter":"datum.k==='arrow'"}],"mark":{"type":"point","shape":"M-0.25,-0.5L0.25,-0.5L0.25,0L0.5,0L0,0.5L-0.5,0L-0.25,0Z","filled":true,"color":"#ff1fc8","size":90,"opacity":1}},
{"data":{"name":"sym"},"transform":[{"filter":"datum.k==='tdn'"}],"mark":{"type":"point","shape":"triangle-down","filled":true,"color":"#111111","size":12,"opacity":1}},
{"data":{"name":"sym"},"transform":[{"filter":"datum.k==='tup'"}],"mark":{"type":"point","shape":"triangle-up","filled":true,"color":"#111111","size":12,"opacity":1}},
{"data":{"name":"tx"},"transform":[{"filter":"datum.k==='ax'"}],"mark":{"type":"text","align":"left","baseline":"middle","fontSize":4.6,"color":"#eeeeee"},"encoding":{"text":{"field":"t"}}},
{"data":{"name":"tx"},"transform":[{"filter":"datum.k==='cur'"}],"mark":{"type":"text","align":"left","baseline":"middle","fontSize":4.6,"color":"#333333"},"encoding":{"text":{"field":"t"}}},
{"data":{"name":"tx"},"transform":[{"filter":"datum.k==='title'"}],"mark":{"type":"text","align":"right","baseline":"middle","fontSize":10,"color":"#3e6591"},"encoding":{"text":{"field":"t"}}},
{"data":{"name":"tx"},"transform":[{"filter":"datum.k==='sub'"}],"mark":{"type":"text","align":"center","baseline":"middle","fontSize":4.4,"color":"#4d6d9e"},"encoding":{"text":{"field":"t"}}},
{"data":{"name":"tx"},"transform":[{"filter":"datum.k==='tf'"}],"mark":{"type":"text","align":"left","baseline":"middle","fontSize":6.6,"color":"#1a1a1a"},"encoding":{"text":{"field":"t"}}},
{"data":{"name":"tx"},"transform":[{"filter":"datum.k==='btn'"}],"mark":{"type":"text","align":"center","baseline":"middle","fontSize":4.6,"color":"#dedede"},"encoding":{"text":{"field":"t"}}},
{"data":{"name":"tx"},"transform":[{"filter":"datum.k==='bid'"}],"mark":{"type":"text","align":"center","baseline":"middle","fontSize":5,"fontWeight":"bold","color":"#e020e0"},"encoding":{"text":{"field":"t"}}},
{"data":{"name":"tx"},"transform":[{"filter":"datum.k==='news'"}],"mark":{"type":"text","align":"center","baseline":"middle","fontSize":5.6,"fontStyle":"italic","color":"#d6e4ff"},"encoding":{"text":{"field":"t"}}},
{"data":{"name":"tx"},"transform":[{"filter":"datum.k==='icon'"}],"mark":{"type":"text","align":"center","baseline":"middle","fontSize":5,"font":"DejaVu Sans","color":"#e8eeff"},"encoding":{"text":{"field":"t"}}},
{"data":{"name":"tx"},"transform":[{"filter":"datum.k==='off'"}],"mark":{"type":"text","align":"center","baseline":"middle","fontSize":5.8,"color":"#e6e6e6"},"encoding":{"text":{"field":"t"}}},
{"data":{"name":"tx"},"transform":[{"filter":"datum.k==='sm'"}],"mark":{"type":"text","align":"left","baseline":"middle","fontSize":4,"color":"#f2f2f2"},"encoding":{"text":{"field":"t"}}},
{"data":{"name":"tx"},"transform":[{"filter":"datum.k==='yl'"}],"mark":{"type":"text","align":"left","baseline":"middle","fontSize":4.6,"fontWeight":"bold","color":"#f2f04a"},"encoding":{"text":{"field":"t"}}},
{"data":{"name":"tx"},"transform":[{"filter":"datum.k==='wh'"}],"mark":{"type":"text","align":"left","baseline":"middle","fontSize":4.4,"color":"#3050c8"},"encoding":{"text":{"field":"t"}}},
{"data":{"name":"tx"},"transform":[{"filter":"datum.k==='wo'"}],"mark":{"type":"text","align":"left","baseline":"middle","fontSize":4.6,"color":"#1c1c80"},"encoding":{"text":{"field":"t"}}},
{"data":{"name":"tx"},"transform":[{"filter":"datum.k==='do'"}],"mark":{"type":"text","align":"left","baseline":"middle","fontSize":4.2,"color":"#e0e090"},"encoding":{"text":{"field":"t"}}},
{"data":{"name":"tx"},"transform":[{"filter":"datum.k==='star'"}],"mark":{"type":"text","align":"center","baseline":"middle","fontSize":8,"font":"DejaVu Sans","color":"#ff1a9a"},"encoding":{"text":{"field":"t"}}},
{"data":{"name":"tx"},"transform":[{"filter":"datum.k==='r5'"}],"mark":{"type":"text","align":"center","baseline":"middle","fontSize":5,"color":"#e02020"},"encoding":{"text":{"field":"t"}}}
]
},
{
"encoding":{
"x":{"field":"n","type":"quantitative","scale":{"domain":[-1.6667,265],"nice":false,"zero":false},"axis":null},
"y":{"field":"v","type":"quantitative","scale":{"domain":[-4.0,333.71],"nice":false,"zero":false},"axis":null}
},
"layer":[
{"data":{"name":"tlev"},"transform":[{"filter":"datum.k==='dot'"}],"mark":{"type":"rule","color":"#6a6a6a","strokeWidth":1,"strokeDash":[1.5,2]},"encoding":{"x2":{"field":"n2"}}},
{"data":{"name":"tlev"},"transform":[{"filter":"datum.k==='sep'"}],"mark":{"type":"rule","color":"#e8e8e8","strokeWidth":1.5},"encoding":{"x2":{"field":"n2"}}},
{"data":{"name":"tlev"},"transform":[{"filter":"datum.k==='strip'"}],"mark":{"type":"rule","color":"#111111","strokeWidth":1.3},"encoding":{"x2":{"field":"n2"}}},
{"data":{"name":"tu"},"mark":{"type":"line","color":"#87cde8","strokeWidth":1,"interpolate":"monotone"}},
{"data":{"name":"tw"},"mark":{"type":"line","color":"#87cde8","strokeWidth":1,"interpolate":"monotone"}},
{"data":{"name":"ty"},"mark":{"type":"line","color":"#f2ee00","strokeWidth":2,"interpolate":"monotone"}},
{"data":{"name":"tr"},"mark":{"type":"line","color":"#ff0000","strokeWidth":1.5,"interpolate":"monotone"}},
{"data":{"name":"tk"},"mark":{"type":"line","color":"#000000","strokeWidth":1.3}},
{"data":{"name":"mk"},"transform":[{"filter":"datum.k==='bd'"}],"mark":{"type":"point","shape":"triangle-down","filled":true,"color":"#2a5cc0","size":14,"opacity":1}},
{"data":{"name":"mk"},"transform":[{"filter":"datum.k==='kd'"}],"mark":{"type":"point","shape":"triangle-down","filled":true,"color":"#111111","size":14,"opacity":1}},
{"data":{"name":"mk"},"transform":[{"filter":"datum.k==='ku'"}],"mark":{"type":"point","shape":"triangle-up","filled":true,"color":"#111111","size":14,"opacity":1}},
{"data":{"name":"mk"},"transform":[{"filter":"datum.k==='gd'"}],"mark":{"type":"point","filled":true,"color":"#7a7a7a","size":5,"opacity":1}},
{"data":{"name":"mk"},"transform":[{"filter":"datum.k==='rd'"}],"mark":{"type":"point","filled":true,"color":"#e01020","size":8,"opacity":1}},
{"data":{"name":"tt"},"transform":[{"filter":"datum.k==='time'"}],"mark":{"type":"text","align":"left","baseline":"middle","fontSize":3.8,"color":"#ececec"},"encoding":{"text":{"field":"t"}}},
{"data":{"name":"trc"},"mark":{"type":"rect","fill":"#111111"},"encoding":{"x2":{"field":"n2"},"y2":{"field":"v2"}}},
{"data":{"name":"tt"},"transform":[{"filter":"datum.k==='hdr'"}],"mark":{"type":"text","align":"left","baseline":"middle","fontSize":3.9,"color":"#f0f0f0"},"encoding":{"text":{"field":"t"}}},
{"data":{"name":"tt"},"transform":[{"filter":"datum.k==='lvl'"}],"mark":{"type":"text","align":"left","baseline":"middle","fontSize":4.6,"color":"#3a8aa0"},"encoding":{"text":{"field":"t"}}},
{"data":{"name":"tt"},"transform":[{"filter":"datum.k==='rax'"}],"mark":{"type":"text","align":"left","baseline":"middle","fontSize":4.4,"color":"#eeeeee"},"encoding":{"text":{"field":"t"}}},
{"data":{"name":"tt"},"transform":[{"filter":"datum.k==='rbox'"}],"mark":{"type":"text","align":"left","baseline":"middle","fontSize":4.4,"color":"#ffffff"},"encoding":{"text":{"field":"t"}}},
{"data":{"name":"tt"},"transform":[{"filter":"datum.k==='mag'"}],"mark":{"type":"text","align":"right","baseline":"middle","fontSize":6.2,"fontWeight":"bold","color":"#ff1a9c"},"encoding":{"text":{"field":"t"}}},
{"data":{"name":"tt"},"transform":[{"filter":"datum.k==='red'"}],"mark":{"type":"text","align":"right","baseline":"middle","fontSize":6.4,"fontWeight":"bold","color":"#ff1010"},"encoding":{"text":{"field":"t"}}},
{"data":{"name":"tt"},"transform":[{"filter":"datum.k==='aru'"}],"mark":{"type":"text","align":"center","baseline":"middle","fontSize":11,"fontWeight":"bold","font":"DejaVu Sans","color":"#ff1a9c"},"encoding":{"text":{"field":"t"}}},
{"data":{"name":"tt"},"transform":[{"filter":"datum.k==='ard'"}],"mark":{"type":"text","align":"center","baseline":"middle","fontSize":11,"fontWeight":"bold","font":"DejaVu Sans","color":"#ff1010"},"encoding":{"text":{"field":"t"}}},
{"data":{"name":"tt"},"transform":[{"filter":"datum.k==='tbox'"}],"mark":{"type":"text","align":"center","baseline":"middle","fontSize":4.2,"color":"#ffffff"},"encoding":{"text":{"field":"t"}}}
]
}
],
"resolve":{"scale":{"y":"independent"}}
}
